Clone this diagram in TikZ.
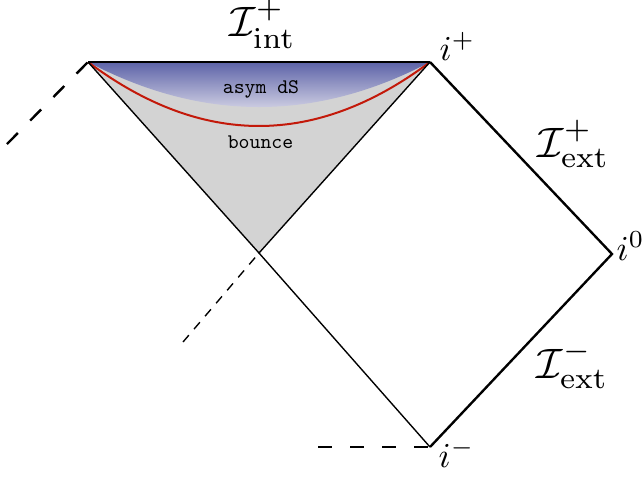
\documentclass[tikz,border=0pt]{standalone}
\usepackage{amsmath}
\definecolor{bluetop}{RGB}{93,99,168}
\definecolor{bluebot}{RGB}{205,205,226}
\definecolor{bouncegray}{RGB}{211,211,211}
\definecolor{curvered}{RGB}{195,25,10}
\begin{document}
\begin{tikzpicture}[x=0.4pt,y=-0.4pt,
  thickline/.style={line width=0.95pt},
  thinline/.style={line width=0.55pt},
  lbl/.style={inner sep=0pt, anchor=base west},
  bigmath/.style={scale=1.7},
  smallmath/.style={scale=1.4},
  regionlbl/.style={font=\ttfamily, scale=0.83, inner sep=0pt, anchor=base}]
\useasboundingbox (0,0) rectangle (644,476);
\coordinate (A) at (88,62);
\coordinate (B) at (430,62);
\coordinate (C) at (259,253);
\coordinate (R) at (612,254);
\coordinate (D) at (430,447);
\coordinate (E) at (7,144);
\coordinate (F) at (183,342);
\coordinate (G) at (318,447);
% bounce region
\fill[bouncegray] (A) -- (B) -- (C) -- cycle;
% asymptotic de Sitter region
\begin{scope}
  \clip (A) .. controls (202,122) and (316,122) .. (B) -- cycle;
  \shade[top color=bluetop, bottom color=bluebot] (88,62) rectangle (430,108);
\end{scope}
% bounce curve
\draw[curvered, line width=0.8pt] (A) .. controls (202,147.3) and (316,147.3) .. (B);
% boundaries
\draw[thinline] (A) -- (C) -- (B);
\draw[thinline] (C) -- (D);
\draw[thickline] (A) -- (B);
\draw[thickline, line join=miter] (B) -- (R) -- (D);
\draw[thickline, dash pattern=on 6.2pt off 7pt] (E) -- (A);
\draw[thinline, dash pattern=on 3.6pt off 3.2pt] (F) -- (C);
\draw[thickline, dash pattern=on 5.6pt off 7.2pt] (G) -- (D);
% labels
\node[lbl,bigmath] (Iint) at (229,36) {$\mathcal{I}^+_{\mathrm{int}}$};
\node[lbl,smallmath] (ip) at (439,60) {$i^+$};
\node[lbl,bigmath] (Iep) at (537,157) {$\mathcal{I}^+_{\mathrm{ext}}$};
\node[lbl,smallmath] (i0) at (616,260) {$i^0$};
\node[lbl,bigmath] (Iem) at (536,378) {$\mathcal{I}^-_{\mathrm{ext}}$};
\node[lbl,smallmath] (im) at (438,467) {$i^-$};
\node[regionlbl] (asym) at (261,93.3) {asym dS};
\node[regionlbl] (bounce) at (260.5,148.3) {bounce};
\end{tikzpicture}
\end{document}
